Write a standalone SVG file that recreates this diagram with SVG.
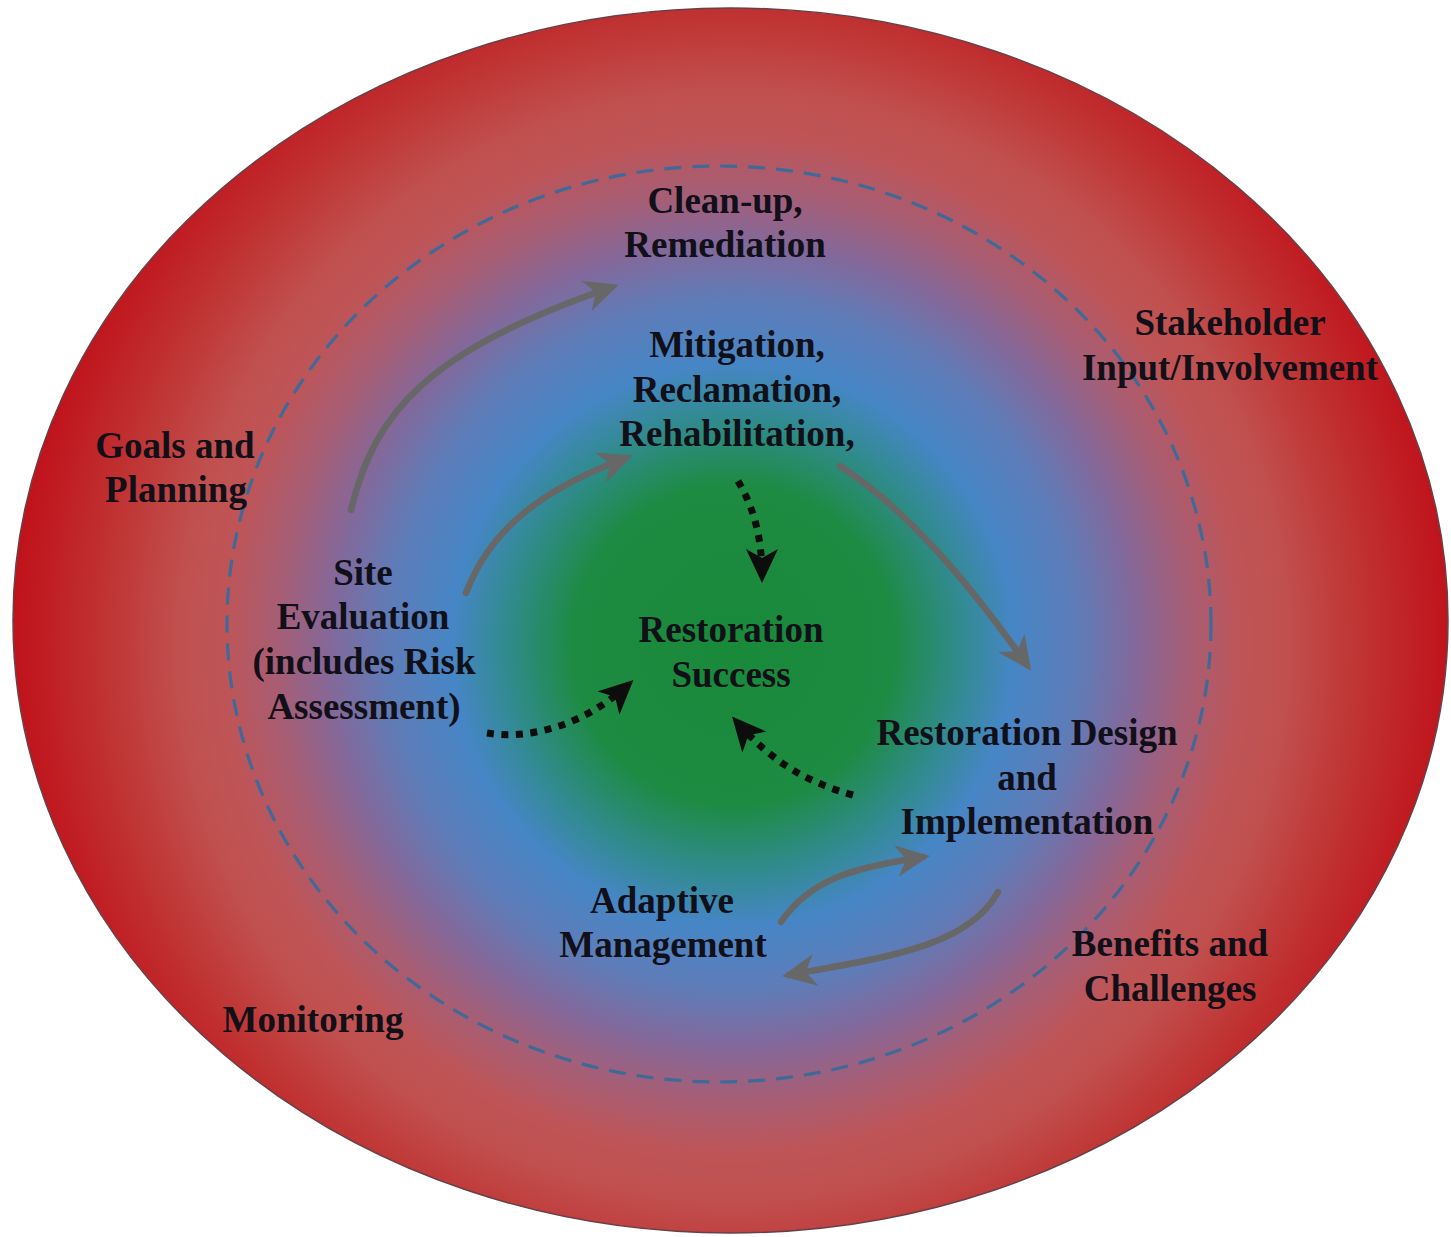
<svg xmlns="http://www.w3.org/2000/svg" width="1451" height="1237" viewBox="0 0 1451 1237">
  <defs>
    <radialGradient id="bg" gradientUnits="userSpaceOnUse" cx="733" cy="645" r="720">
      <stop offset="0" stop-color="#19893a"/>
      <stop offset="0.22" stop-color="#1d8b41"/>
      <stop offset="0.31" stop-color="#2f8b8a"/>
      <stop offset="0.39" stop-color="#4686c6"/>
      <stop offset="0.48" stop-color="#5f7cb8"/>
      <stop offset="0.56" stop-color="#84689a"/>
      <stop offset="0.63" stop-color="#a65e76"/>
      <stop offset="0.71" stop-color="#bf5456"/>
      <stop offset="0.77" stop-color="#c0504e"/>
      <stop offset="0.87" stop-color="#c03434"/>
      <stop offset="1" stop-color="#c0121a"/>
    </radialGradient>
    <marker id="grayHead" viewBox="0 0 34 34" refX="27" refY="17" markerWidth="34" markerHeight="34" markerUnits="userSpaceOnUse" orient="auto">
      <path d="M0,1 L34,17 L0,33 L10,17 z" fill="#676767"/>
    </marker>
    <marker id="blackHead" viewBox="0 0 34 32" refX="28" refY="16" markerWidth="34" markerHeight="32" markerUnits="userSpaceOnUse" orient="auto">
      <path d="M0,0 L34,16 L0,32 L9,16 z" fill="#0d0d0d"/>
    </marker>
  </defs>
  <style>
    .lbl { font-family: "Liberation Serif", "Times New Roman", serif; font-weight: bold; font-size: 37px; fill: #111018; text-anchor: middle; }
    .flow { fill: none; stroke: #676767; stroke-width: 6.5; stroke-linecap: round; marker-end: url(#grayHead); }
    .dot { fill: none; stroke: #0d0d0d; stroke-width: 7; stroke-dasharray: 7 7.5; marker-end: url(#blackHead); }
  </style>

  <rect width="1451" height="1237" fill="#ffffff"/>

  <!-- outer field and dashed boundary -->
  <g id="field">
    <ellipse cx="730.5" cy="620.5" rx="717.5" ry="612.5" fill="url(#bg)" stroke="#6a4048" stroke-width="1.5"/>
    <ellipse cx="719" cy="624" rx="492" ry="458" fill="none" stroke="#3f6a98" stroke-width="3.2" stroke-dasharray="17 11"/>
  </g>

  <!-- connectors -->
  <g id="connectors">
    <path class="flow" d="M351,510 C375,410 430,350 612,287"/>
    <path class="flow" d="M466,593 C490,530 540,490 626,458"/>
    <path class="flow" d="M840,466 C900,505 960,570 1027,665"/>
    <path class="flow" d="M781,922 C810,880 850,868 923,857"/>
    <path class="flow" d="M998,892 C968,948 880,958 789,975"/>
    <path class="dot" d="M487,733 C530,740 585,725 629,684"/>
    <path class="dot" d="M738,481 C755,510 762,540 762,577"/>
    <path class="dot" d="M853,795 C805,782 770,760 736,721"/>
  </g>

  <!-- labels -->
  <g id="clean-up">
    <text class="lbl" x="725" y="213">Clean-up,</text>
    <text class="lbl" x="725" y="257">Remediation</text>
  </g>
  <g id="mitigation">
    <text class="lbl" x="737" y="357">Mitigation,</text>
    <text class="lbl" x="737" y="402">Reclamation,</text>
    <text class="lbl" x="737" y="446">Rehabilitation,</text>
  </g>
  <g id="stakeholder">
    <text class="lbl" x="1230" y="335">Stakeholder</text>
    <text class="lbl" x="1230" y="380">Input/Involvement</text>
  </g>
  <g id="goals">
    <text class="lbl" x="175" y="458">Goals and</text>
    <text class="lbl" x="176" y="502">Planning</text>
  </g>
  <g id="site-evaluation">
    <text class="lbl" x="363" y="585">Site</text>
    <text class="lbl" x="363" y="629">Evaluation</text>
    <text class="lbl" x="364" y="674">(includes Risk</text>
    <text class="lbl" x="364" y="719">Assessment)</text>
  </g>
  <g id="restoration-success">
    <text class="lbl" x="731" y="642">Restoration</text>
    <text class="lbl" x="731" y="687">Success</text>
  </g>
  <g id="restoration-design">
    <text class="lbl" x="1027" y="745">Restoration Design</text>
    <text class="lbl" x="1027" y="790">and</text>
    <text class="lbl" x="1027" y="834">Implementation</text>
  </g>
  <g id="adaptive-management">
    <text class="lbl" x="662" y="913">Adaptive</text>
    <text class="lbl" x="663" y="957">Management</text>
  </g>
  <g id="benefits">
    <text class="lbl" x="1170" y="956">Benefits and</text>
    <text class="lbl" x="1170" y="1001">Challenges</text>
  </g>
  <g id="monitoring">
    <text class="lbl" x="313" y="1032">Monitoring</text>
  </g>
</svg>
